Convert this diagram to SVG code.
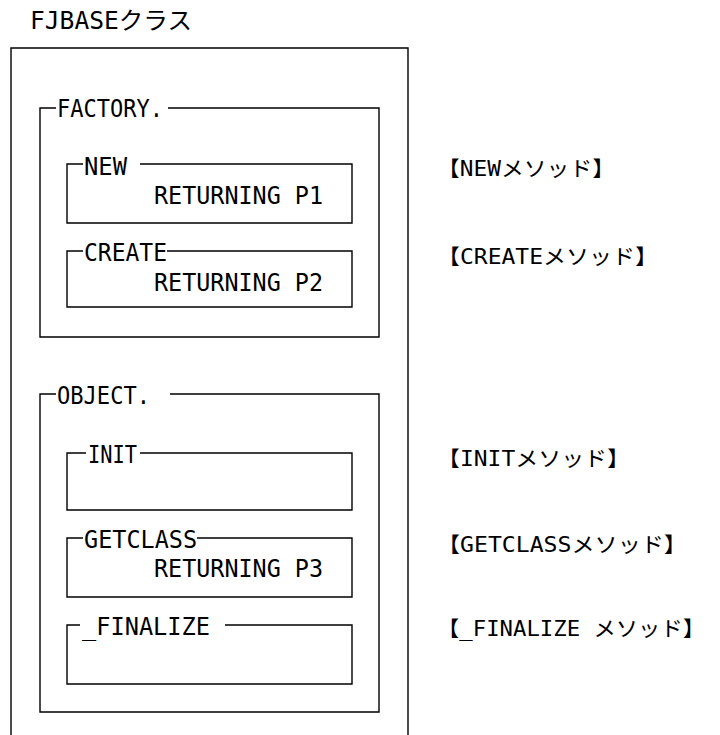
<svg xmlns="http://www.w3.org/2000/svg" width="720" height="735" viewBox="0 0 720 735">
<style>
.ln{fill:none;stroke:#000;stroke-width:1.4}
.t{font-family:"DejaVu Sans Mono","Liberation Mono","Noto Sans CJK JP",monospace;font-size:24px;fill:#000}
.lb{font-size:21px}
</style>
<rect width="720" height="735" fill="#fff"/>
<text class="t" x="30" y="29" textLength="162" lengthAdjust="spacingAndGlyphs">FJBASEクラス</text>
<g id="class-frame"><path class="ln" d="M11,735 V48 H408 V735"/></g>
<g id="factory">
<path class="ln" d="M56,108 H40 V337 H379 V108 H168"/>
<text class="t" x="57" y="117" textLength="106" lengthAdjust="spacingAndGlyphs">FACTORY.</text>
</g>
<g id="new">
<path class="ln" d="M83,164 H67 V223 H352 V164 H140"/>
<text class="t" x="84" y="175" textLength="43" lengthAdjust="spacingAndGlyphs">NEW</text>
<text class="t" x="154" y="204" textLength="169" lengthAdjust="spacingAndGlyphs">RETURNING P1</text>
</g>
<g id="create">
<path class="ln" d="M83,251 H67 V307 H352 V251 H167"/>
<text class="t" x="84" y="261" textLength="83" lengthAdjust="spacingAndGlyphs">CREATE</text>
<text class="t" x="154" y="291" textLength="169" lengthAdjust="spacingAndGlyphs">RETURNING P2</text>
</g>
<g id="object">
<path class="ln" d="M56,394 H40 V712 H379 V394 H170"/>
<text class="t" x="57" y="404" textLength="93" lengthAdjust="spacingAndGlyphs">OBJECT.</text>
</g>
<g id="init">
<path class="ln" d="M86,453 H67 V510 H352 V453 H140"/>
<text class="t" x="88" y="463" textLength="49" lengthAdjust="spacingAndGlyphs">INIT</text>
</g>
<g id="getclass">
<path class="ln" d="M83,538 H67 V597 H352 V538 H197"/>
<text class="t" x="84" y="548" textLength="113" lengthAdjust="spacingAndGlyphs">GETCLASS</text>
<text class="t" x="154" y="577" textLength="169" lengthAdjust="spacingAndGlyphs">RETURNING P3</text>
</g>
<g id="finalize">
<path class="ln" d="M80,625 H67 V684 H352 V625 H225"/>
<text class="t" x="82" y="635" textLength="128" lengthAdjust="spacingAndGlyphs">_FINALIZE</text>
</g>
<g id="labels">
<text class="t lb" x="437" y="176" textLength="178" lengthAdjust="spacingAndGlyphs">【NEWメソッド】</text>
<text class="t lb" x="437" y="264" textLength="221" lengthAdjust="spacingAndGlyphs">【CREATEメソッド】</text>
<text class="t lb" x="437" y="466" textLength="193" lengthAdjust="spacingAndGlyphs">【INITメソッド】</text>
<text class="t lb" x="437" y="552" textLength="250" lengthAdjust="spacingAndGlyphs">【GETCLASSメソッド】</text>
<text class="t lb" x="437" y="636" textLength="268" lengthAdjust="spacingAndGlyphs">【_FINALIZE メソッド】</text>
</g>
</svg>
